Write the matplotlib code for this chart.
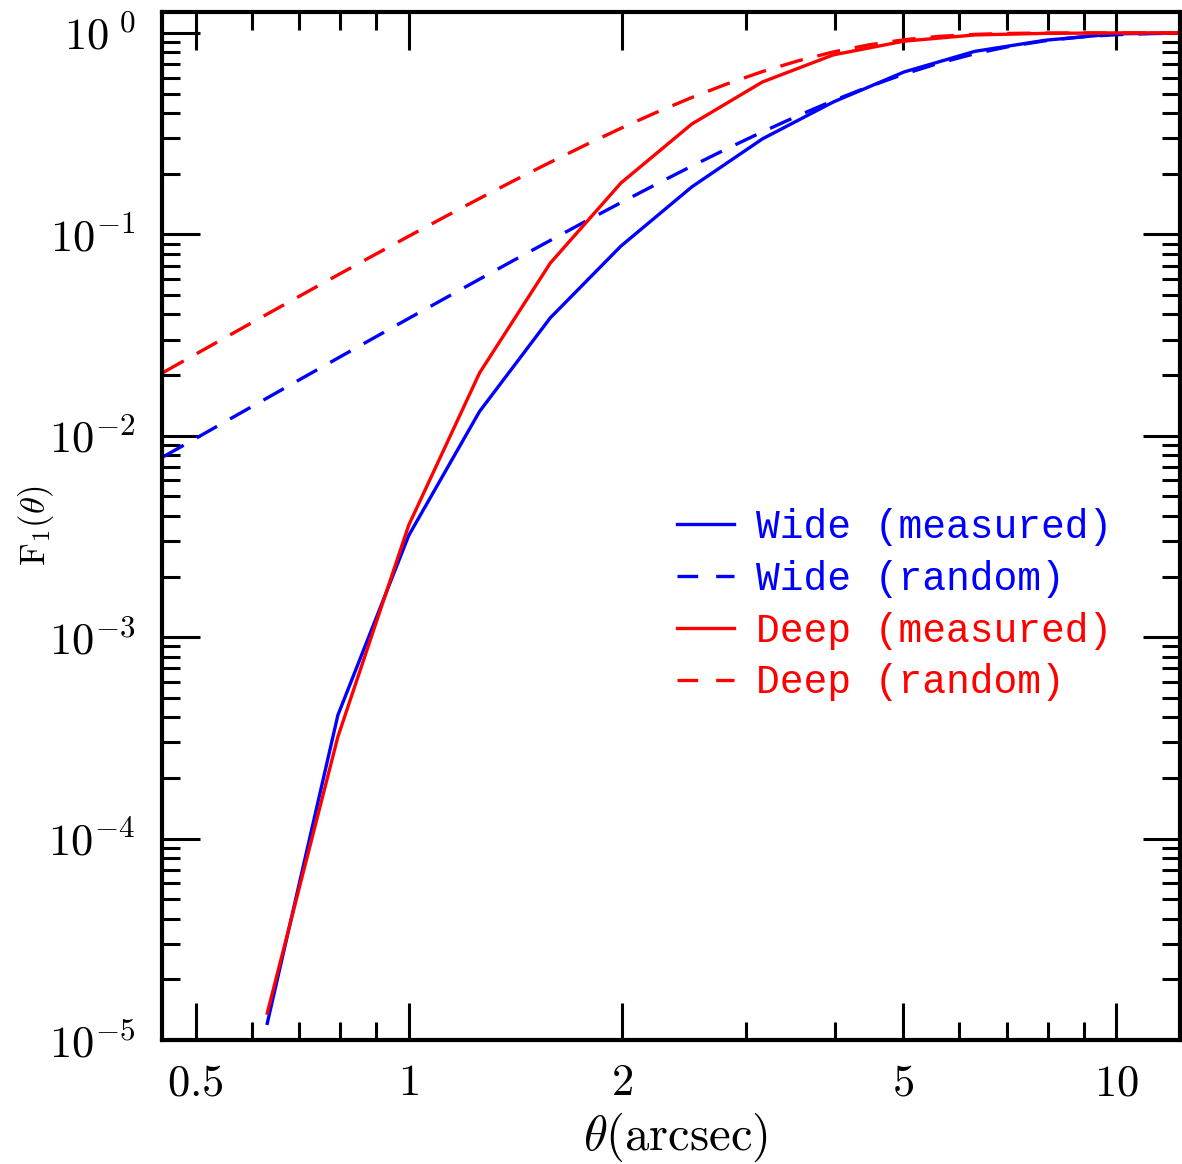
import numpy as np
import matplotlib
matplotlib.use("Agg")
import matplotlib.pyplot as plt
from matplotlib.ticker import FixedLocator, NullFormatter, FixedFormatter

plt.rcParams['mathtext.fontset'] = 'cm'
plt.rcParams['font.family'] = 'DejaVu Serif'

# measured curves, sampled every 0.1 dex in theta
theta_meas = [0.631, 0.794, 1.0, 1.259, 1.585, 1.995, 2.512, 3.162, 3.981, 5.012, 6.310, 7.943, 10.0, 12.59]
wide_meas = [1.21e-5, 4.1e-4, 3.2e-3, 0.0132, 0.0385, 0.0875, 0.172, 0.298, 0.454, 0.64, 0.81, 0.92, 0.99, 1.0]
deep_meas = [1.36e-5, 3.2e-4, 3.6e-3, 0.0205, 0.072, 0.18, 0.353, 0.571, 0.778, 0.91, 0.977, 0.995, 1.0, 1.0]

# random expectation curves
theta_rand = [0.45, 0.5, 0.56, 0.63, 0.71, 0.79, 0.89, 1.0, 1.12, 1.26, 1.41, 1.58, 1.78, 2.0, 2.24,
              2.51, 2.82, 3.16, 3.55, 3.98, 4.47, 5.01, 5.62, 6.31, 7.08, 7.94, 8.91, 10.0, 11.2, 12.6]
wide_rand = [0.00787, 0.0097, 0.01216, 0.01536, 0.01947, 0.02405, 0.03042, 0.03825, 0.0477, 0.0600,
             0.0746, 0.0927, 0.1163, 0.1444, 0.1777, 0.2179, 0.2667, 0.3226, 0.3883, 0.4609,
             0.5412, 0.6243, 0.7082, 0.7884, 0.8585, 0.9145, 0.9548, 0.9798, 0.9925, 0.998]
deep_rand = [0.02064, 0.02542, 0.03178, 0.04007, 0.05059, 0.06225, 0.07834, 0.09787, 0.1212, 0.1509,
             0.1852, 0.2267, 0.2784, 0.3377, 0.4036, 0.4774, 0.5592, 0.6425, 0.7269, 0.8044,
             0.8723, 0.9246, 0.9613, 0.9834, 0.9943, 0.9985, 0.9997, 1.0, 1.0, 1.0]

xmajor = [0.5, 1, 2, 5, 10]
xmajor_labels = ['$0.5$', '$1$', '$2$', '$5$', '$10$']
xminor = [0.6, 0.7, 0.8, 0.9, 3, 4, 6, 7, 8, 9]
ymajor = [1e-5, 1e-4, 1e-3, 1e-2, 1e-1, 1]
ymajor_labels = ['$10^{-5}$', '$10^{-4}$', '$10^{-3}$', '$10^{-2}$', '$10^{-1}$', r'$10^{\ 0}$']

fig = plt.figure(figsize=(11.82, 11.64), dpi=100)
ax = fig.add_axes([162/1182, 1-1040/1164, (1180-162)/1182, (1040-12)/1164])

dash = (7, 4.5)
lw = 2.4
ax.plot(theta_meas, wide_meas, color='#0000ff', lw=lw, label='Wide (measured)')
ax.plot(theta_rand, wide_rand, color='#0000ff', lw=lw, dashes=dash, label='Wide (random)')
ax.plot(theta_meas, deep_meas, color='#ff0000', lw=lw, label='Deep (measured)')
ax.plot(theta_rand, deep_rand, color='#ff0000', lw=lw, dashes=dash, label='Deep (random)')

ax.set_xscale('log')
ax.set_yscale('log')
ax.set_xlim(0.448, 12.3)
ax.set_ylim(1e-5, 1.27)

ax.xaxis.set_major_locator(FixedLocator(xmajor))
ax.xaxis.set_major_formatter(FixedFormatter(xmajor_labels))
ax.xaxis.set_minor_locator(FixedLocator(xminor))
ax.xaxis.set_minor_formatter(NullFormatter())
ax.yaxis.set_major_locator(FixedLocator(ymajor))
ax.yaxis.set_major_formatter(FixedFormatter(ymajor_labels))
ax.yaxis.set_minor_locator(FixedLocator([m * 10.0**e for e in range(-5, 0) for m in range(2, 10)]))
ax.yaxis.set_minor_formatter(NullFormatter())

ax.tick_params(which='both', direction='in', top=True, right=True, width=2.2, labelsize=32)
ax.tick_params(which='major', length=27)
ax.tick_params(which='minor', length=13)
ax.tick_params(axis='x', which='major', pad=15)
ax.tick_params(axis='y', which='major', pad=19)
for s in ax.spines.values():
    s.set_linewidth(3)

ax.set_xlabel(r'$\theta(\mathrm{arcsec})$', fontsize=35, va='center')
ax.xaxis.set_label_coords(0.504, -0.095)
ax.set_ylabel(r'$\mathrm{F}_1(\theta)$', fontsize=25, va='center')
ax.yaxis.set_label_coords(-0.124, 0.5)

leg = ax.legend(loc='upper left', bbox_to_anchor=(0.49, 0.533), frameon=False,
                labelcolor='linecolor', prop={'family': 'Liberation Mono', 'size': 28.5},
                handlelength=1.45, handletextpad=0.55, labelspacing=0.35, borderaxespad=0)
# legend "- -" handles: two short dashes like the original
for ln in leg.get_lines()[1::2]:
    ln.set_dashes((6.2, 5.4))

fig.savefig('out.png', dpi=100)
